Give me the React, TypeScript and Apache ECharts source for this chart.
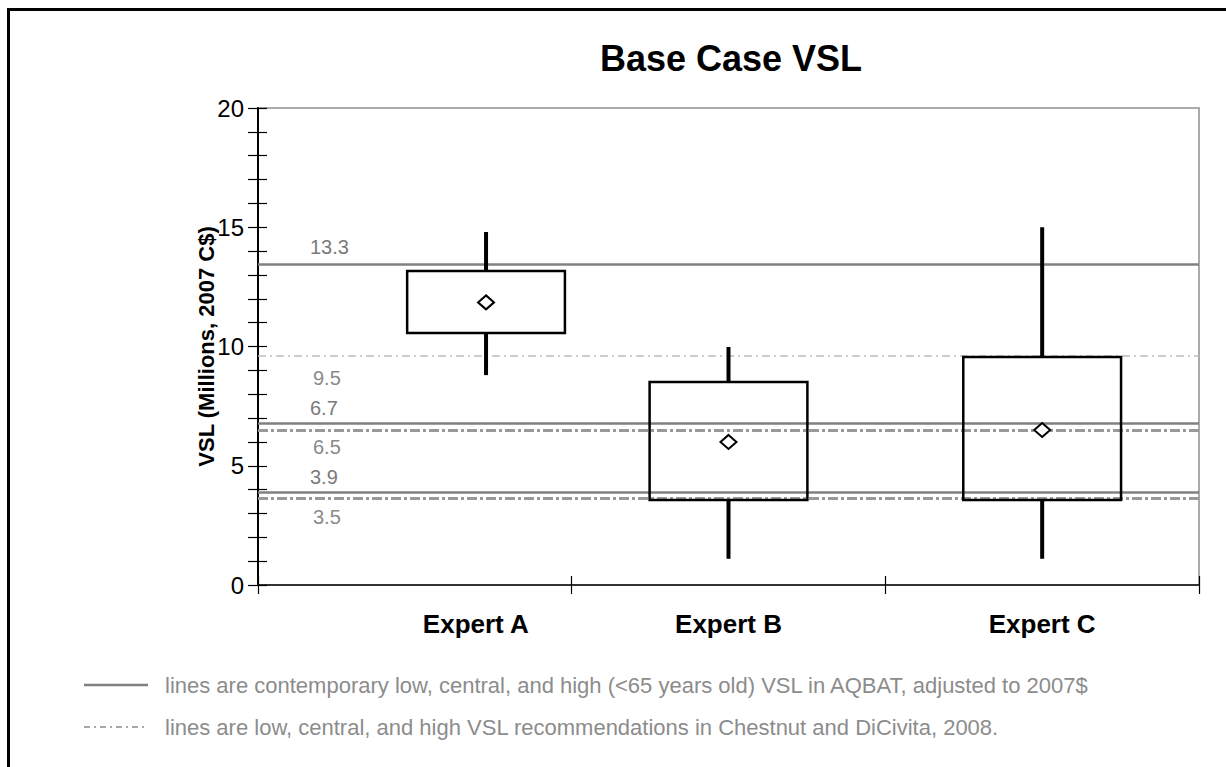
import React, { useEffect, useRef } from "react";
import * as echarts from "echarts";

const categories = ["Expert A", "Expert B", "Expert C"];
const boxX = [0.727, 1.5, 2.5];
const whiskerLow = [8.8, 1.1, 1.1];
const q1 = [10.57, 3.56, 3.56];
const q3 = [13.17, 8.51, 9.56];
const whiskerHigh = [14.8, 9.98, 15.0];
const means = [11.85, 6.0, 6.5];

const aqbatLines = [13.45, 6.8, 3.9];
const aqbatLabels = ["13.3", "6.7", "3.9"];
const chestnutLines = [9.6, 6.5, 3.65];
const chestnutLabels = ["9.5", "6.5", "3.5"];

const titleText = "Base Case VSL";
const yAxisTitle = "VSL (Millions, 2007 C$)";
const legendSolidText =
  "lines are contemporary low, central, and high (<65 years old) VSL in AQBAT, adjusted to 2007$";
const legendDashText =
  "lines are low, central, and high VSL recommendations in Chestnut and DiCivita, 2008.";

const FONT = "'Liberation Sans', Arial, sans-serif";

export default function App() {
  const ref = useRef<HTMLDivElement>(null);
  useEffect(() => {
    if (!ref.current) return;
    const chart = echarts.init(ref.current, null, { renderer: "svg" });
    const boxData = categories.map((_, i) => [
      boxX[i],
      whiskerLow[i],
      q1[i],
      q3[i],
      whiskerHigh[i],
      means[i],
    ]);
    const topGaps = [7, 5, 5];
    const bottomGaps = [12, 7, 9];
    const option: any = {
      animation: false,
      backgroundColor: "#fff",
      title: {
        text: titleText,
        left: 726,
        textAlign: "center",
        top: 35,
        textStyle: { fontFamily: FONT, fontSize: 36, fontWeight: "bold", color: "#000" },
      },
      grid: {
        left: 258,
        right: 27,
        top: 108,
        bottom: 182,
        show: true,
        borderColor: "#aaaaaa",
        borderWidth: 2,
        backgroundColor: "transparent",
      },
      xAxis: [
        {
          type: "value",
          min: 0,
          max: 3,
          interval: 1,
          axisLine: { show: false },
          axisLabel: { show: false },
          splitLine: { show: false },
          axisTick: { show: true, inside: true, length: 9, lineStyle: { color: "#000", width: 1.2 } },
        },
        {
          type: "category",
          data: categories,
          position: "bottom",
          boundaryGap: true,
          axisLine: { show: true, lineStyle: { color: "#333", width: 2 } },
          axisTick: { show: true, length: 9, lineStyle: { color: "#000", width: 1.2 } },
          axisLabel: {
            margin: 26,
            fontFamily: FONT,
            fontSize: 26,
            fontWeight: "bold",
            color: "#000",
            formatter: (v: string, i: number) => (i === 0 ? "{a|" + v + "}" : v),
            rich: {
              a: { padding: [0, 0, 0, 122], fontFamily: FONT, fontSize: 26, fontWeight: "bold", color: "#000" },
            },
          },
          splitLine: { show: false },
        },
      ],
      yAxis: [
        {
          type: "value",
          min: 0,
          max: 20,
          interval: 5,
          name: yAxisTitle,
          nameLocation: "middle",
          nameGap: 41,
          nameRotate: 90,
          nameMoveOverlap: false,
          nameTextStyle: { fontFamily: FONT, fontSize: 22, fontWeight: "bold", color: "#000" },
          axisLine: { show: true, lineStyle: { color: "#000", width: 2 } },
          axisTick: { show: true, length: 10, lineStyle: { color: "#000", width: 1.2 } },
          minorTick: { show: true, splitNumber: 5, length: 10, lineStyle: { color: "#000", width: 1.2 } },
          axisLabel: { fontFamily: FONT, fontSize: 24, color: "#000", margin: 14 },
          splitLine: { show: false },
        },
        {
          type: "value",
          min: 0,
          max: 20,
          interval: 1,
          position: "left",
          axisLine: { show: false },
          axisLabel: { show: false },
          splitLine: { show: false },
          axisTick: { show: true, inside: true, length: 9, lineStyle: { color: "#000", width: 1.2 } },
        },
      ],
      series: [
        {
          type: "line",
          xAxisIndex: 0,
          yAxisIndex: 0,
          data: [],
          z: 2,
          markLine: {
            silent: true,
            symbol: ["none", "none"],
            data: [
              ...aqbatLines.map((v, i) => ({
                yAxis: v,
                lineStyle: { color: "#808080", width: 2.5, type: "solid" },
                label: {
                  show: true,
                  formatter: aqbatLabels[i],
                  position: "insideStartTop",
                  distance: [52, topGaps[i]],
                  fontFamily: FONT,
                  fontSize: 20,
                  color: "#7a7a7a",
                },
              })),
              ...chestnutLines.map((v, i) => ({
                yAxis: v,
                lineStyle:
                  i === 0
                    ? { color: "#bdbdbd", width: 1.5, type: [8, 4, 2, 4] }
                    : { color: "#999999", width: 3, type: [10, 3, 3, 3] },
                label: {
                  show: true,
                  formatter: chestnutLabels[i],
                  position: "insideStartBottom",
                  distance: [55, bottomGaps[i]],
                  fontFamily: FONT,
                  fontSize: 20,
                  color: "#8a8a8a",
                },
              })),
            ],
          },
        },
        {
          type: "custom",
          xAxisIndex: 0,
          yAxisIndex: 0,
          z: 5,
          clip: false,
          data: boxData,
          encode: { x: 0, y: [1, 2, 3, 4, 5] },
          renderItem: (params: any, api: any) => {
            const x = api.value(0);
            const pLo = api.coord([x, api.value(1)]);
            const pQ1 = api.coord([x, api.value(2)]);
            const pQ3 = api.coord([x, api.value(3)]);
            const pHi = api.coord([x, api.value(4)]);
            const pM = api.coord([x, api.value(5)]);
            const w = api.size([0.503, 0])[0];
            const cx = pM[0];
            const cy = pM[1];
            return {
              type: "group",
              children: [
                {
                  type: "line",
                  shape: { x1: pHi[0], y1: pHi[1], x2: pQ3[0], y2: pQ3[1] },
                  style: { stroke: "#000", lineWidth: 4 },
                },
                {
                  type: "line",
                  shape: { x1: pLo[0], y1: pLo[1], x2: pQ1[0], y2: pQ1[1] },
                  style: { stroke: "#000", lineWidth: 4 },
                },
                {
                  type: "rect",
                  shape: { x: pQ3[0] - w / 2, y: pQ3[1], width: w, height: pQ1[1] - pQ3[1] },
                  style: { fill: "none", stroke: "#000", lineWidth: 2.5 },
                },
                {
                  type: "polygon",
                  shape: {
                    points: [
                      [cx, cy - 7],
                      [cx + 8, cy],
                      [cx, cy + 7],
                      [cx - 8, cy],
                    ],
                  },
                  style: { fill: "#fff", stroke: "#000", lineWidth: 2 },
                },
              ],
            };
          },
        },
      ],
      graphic: [
        { type: "line", shape: { x1: 8.5, y1: 8, x2: 8.5, y2: 767 }, style: { stroke: "#000", lineWidth: 3 } },
        { type: "line", shape: { x1: 7, y1: 9.5, x2: 1226, y2: 9.5 }, style: { stroke: "#000", lineWidth: 3 } },
        { type: "line", shape: { x1: 84, y1: 685, x2: 148, y2: 685 }, style: { stroke: "#808080", lineWidth: 2.5 } },
        {
          type: "text",
          x: 165,
          y: 685,
          style: { text: legendSolidText, fontFamily: FONT, fontSize: 22, fill: "#8c8c8c", verticalAlign: "middle" },
        },
        {
          type: "line",
          shape: { x1: 84, y1: 727, x2: 148, y2: 727 },
          style: { stroke: "#8c8c8c", lineWidth: 1.5, lineDash: [6, 4, 2, 4] },
        },
        {
          type: "text",
          x: 165,
          y: 727,
          style: { text: legendDashText, fontFamily: FONT, fontSize: 22, fill: "#8c8c8c", verticalAlign: "middle" },
        },
      ],
    };
    chart.setOption(option);
    return () => chart.dispose();
  }, []);
  return (
    <div
      ref={ref}
      style={{ position: "fixed", left: 0, top: 0, width: 1226, height: 767, background: "#fff" }}
    />
  );
}
